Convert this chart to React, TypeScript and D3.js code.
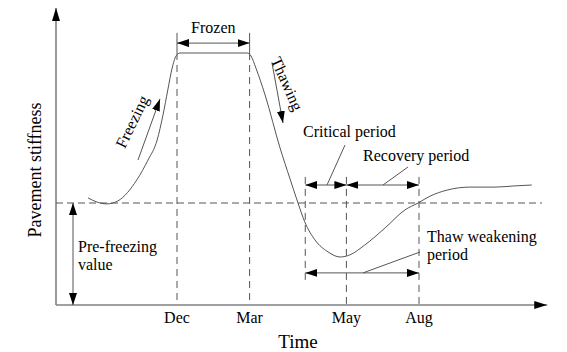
import React from 'react';
import * as d3 from 'd3';

// schematic time units (0..100) and stiffness units (0..100)
const monthLabels = ['Dec', 'Mar', 'May', 'Aug'];
const monthT = [25, 40, 60, 75];
const criticalStartT = 51.5;
const preFreezing = 34;
const plateau = 84;

const curveT = [6.6, 8.5, 10.5, 12.8, 16.7, 19.0, 20.9, 22.1, 23.1, 24.0, 24.8, 25.6, 39.5, 40.3, 41.3, 43.2, 46.3, 48.3, 50.0, 51.4, 53.5, 56.2, 58.7, 60.7, 63.8, 68.0, 72.1, 74.8, 77.3, 80.8, 85.5, 90.7, 94.8, 98.3];
const curveS = [35.7, 34.3, 33.7, 34.7, 41.7, 48.3, 55.0, 63.3, 71.7, 79.0, 83.0, 84.0, 84.0, 83.0, 79.0, 70.0, 52.3, 42.3, 34.0, 27.7, 21.7, 17.7, 16.0, 16.7, 20.0, 25.7, 31.7, 34.0, 36.3, 38.3, 39.3, 39.3, 39.7, 40.0];

const W = 567;
const H = 352;
const x = d3.scaleLinear().domain([0, 100]).range([56, 540]);
const y = d3.scaleLinear().domain([0, 100]).range([305, 5]);

const font = '"Liberation Serif", "Times New Roman", serif';
const lineColor = '#555';
const axisColor = '#808080';

const line = d3.line<number>()
  .x((_, i) => x(curveT[i]))
  .y((d) => y(d))
  .curve(d3.curveMonotoneX);

// double-headed dimension arrow between two x positions
const DimArrow = ({ t0, t1, s }: { t0: number; t1: number; s: number }) => (
  <line x1={x(t0)} x2={x(t1)} y1={y(s)} y2={y(s)} stroke={lineColor} strokeWidth={1}
    markerStart="url(#head)" markerEnd="url(#head)" />
);

const App = () => {
  const dashTop = y(42.7);
  const x0 = x(0);
  const y0 = y(0);
  const frozenS = 87.3;
  const periodS = 40;
  const thawS = 10.7;

  return (
    <svg width={W} height={H} style={{ position: 'absolute', left: 0, top: 0, background: '#fff' }}
      fontFamily={font}>
      <defs>
        <marker id="head" viewBox="0 0 12 8" refX="12" refY="4" markerWidth="12" markerHeight="8"
          markerUnits="userSpaceOnUse" orient="auto-start-reverse">
          <path d="M0,0 L12,4 L0,8 Z" fill="#000" />
        </marker>
        <marker id="axhead" viewBox="0 0 13 8" refX="13" refY="4" markerWidth="13" markerHeight="8"
          markerUnits="userSpaceOnUse" orient="auto">
          <path d="M0,0 L13,4 L0,8 Z" fill="#000" />
        </marker>
      </defs>

      {/* axes */}
      <line x1={x0} y1={y0} x2={x0} y2={y(99)} stroke={axisColor} strokeWidth={1.6} markerEnd="url(#axhead)" />
      <line x1={x0} y1={y0} x2={x(101.5)} y2={y0} stroke={axisColor} strokeWidth={1.6} markerEnd="url(#axhead)" />

      {/* pre-freezing baseline */}
      <line x1={x0} x2={x(100.4)} y1={y(preFreezing)} y2={y(preFreezing)} stroke={lineColor}
        strokeWidth={1} strokeDasharray="7,4" />

      {/* month guides */}
      {monthT.map((t, i) => (
        <g key={monthLabels[i]}>
          <line x1={x(t)} x2={x(t)} y1={i < 2 ? y(plateau) : dashTop} y2={y0} stroke={lineColor}
            strokeWidth={1} strokeDasharray="7,5" />
          <text x={x(t)} y={y0 + 18} textAnchor="middle" fontSize={16}>{monthLabels[i]}</text>
        </g>
      ))}
      <line x1={x(criticalStartT)} x2={x(criticalStartT)} y1={dashTop} y2={y(8.3)} stroke={lineColor}
        strokeWidth={1} strokeDasharray="7,5" />

      {/* stiffness curve */}
      <path d={line(curveS) ?? ''} fill="none" stroke={lineColor} strokeWidth={1} />

      {/* frozen */}
      <line x1={x(monthT[0])} x2={x(monthT[0])} y1={y(plateau)} y2={y(90.7)} stroke={lineColor} />
      <line x1={x(monthT[1])} x2={x(monthT[1])} y1={y(plateau)} y2={y(90.7)} stroke={lineColor} />
      <DimArrow t0={monthT[0]} t1={monthT[1]} s={frozenS} />
      <text x={(x(monthT[0]) + x(monthT[1])) / 2} y={33} textAnchor="middle" fontSize={16}>Frozen</text>

      {/* freezing */}
      <line x1={138} y1={160} x2={160} y2={99} stroke={lineColor} markerEnd="url(#head)" />
      <text transform="translate(137,124) rotate(-64)" textAnchor="middle" fontSize={16}>Freezing</text>

      {/* thawing */}
      <line x1={272} y1={63} x2={283} y2={123} stroke={lineColor} markerEnd="url(#head)" />
      <text transform="translate(282,86) rotate(66)" textAnchor="middle" fontSize={16}>Thawing</text>

      {/* critical & recovery */}
      <DimArrow t0={criticalStartT} t1={monthT[2]} s={periodS} />
      <DimArrow t0={monthT[2]} t1={monthT[3]} s={periodS} />
      <line x1={345} y1={145} x2={327} y2={y(periodS)} stroke={lineColor} />
      <text x={303} y={137} fontSize={16}>Critical period</text>
      <line x1={408} y1={167} x2={383} y2={y(periodS)} stroke={lineColor} />
      <text x={363} y={161} fontSize={16}>Recovery period</text>

      {/* thaw weakening */}
      <DimArrow t0={criticalStartT} t1={monthT[3]} s={thawS} />
      <line x1={420} y1={252} x2={363} y2={y(thawS)} stroke={lineColor} />
      <text x={427} y={242} fontSize={16}>Thaw weakening</text>
      <text x={427} y={260} fontSize={16}>period</text>

      {/* pre-freezing value */}
      <line x1={73} x2={73} y1={y(preFreezing)} y2={y0} stroke={lineColor} markerStart="url(#head)" markerEnd="url(#head)" />
      <text x={78} y={252} fontSize={16}>Pre-freezing</text>
      <text x={78} y={270} fontSize={16}>value</text>

      {/* axis titles */}
      <text transform="translate(41,170) rotate(-90)" textAnchor="middle" fontSize={18}>Pavement stiffness</text>
      <text x={298} y={348} textAnchor="middle" fontSize={19}>Time</text>
    </svg>
  );
};

export default App;
